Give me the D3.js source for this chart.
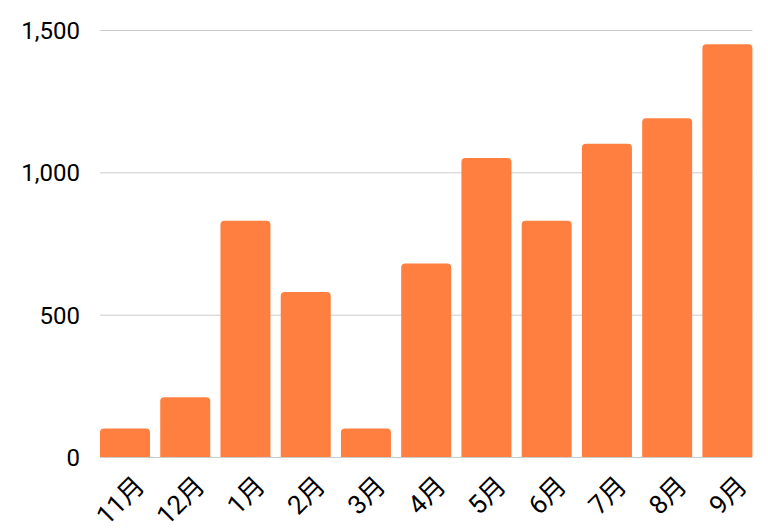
<!DOCTYPE html>
<html><head><meta charset="utf-8">
<script src="https://cdn.jsdelivr.net/npm/d3@7/dist/d3.min.js"></script>
<style>body{margin:0;background:#fff}text{font-family:Roboto,"Noto Sans CJK JP",sans-serif;fill:#000}</style>
</head><body><svg id="c" width="768" height="531"></svg>
<script>
const categories = ["11月","12月","1月","2月","3月","4月","5月","6月","7月","8月","9月"];
const values = [100,210,830,580,100,680,1050,830,1100,1190,1450];
const yTicks = [0,500,1000,1500];

const svg = d3.select("#c");
const x = d3.scaleBand().domain(categories).range([100,752.4]).paddingInner(0.17).paddingOuter(0);
const y = d3.scaleLinear().domain([0,1500]).range([457,30]);
const fmt = d3.format(",");

svg.append("g").selectAll("line").data(yTicks).join("line")
  .attr("x1",100).attr("x2",752.4).attr("y1",d=>y(d)+0.5).attr("y2",d=>y(d)+0.5)
  .attr("stroke","#cccccc").attr("stroke-width",1);

svg.append("g").selectAll("text").data(yTicks).join("text")
  .attr("x",80).attr("y",d=>y(d)).attr("dy","0.38em").attr("text-anchor","end")
  .attr("font-size",24).text(d=>fmt(d));

const r = 4;
svg.append("g").selectAll("path").data(values).join("path")
  .attr("fill","#fe7f3f")
  .attr("d",(d,i)=>{
    const x0 = x(categories[i]), w = x.bandwidth(), y0 = y(d), yb = y(0);
    return `M${x0},${yb}V${y0+r}Q${x0},${y0} ${x0+r},${y0}H${x0+w-r}Q${x0+w},${y0} ${x0+w},${y0+r}V${yb}Z`;
  });

svg.append("g").selectAll("text").data(categories).join("text")
  .attr("transform",d=>`translate(${x(d)+x.bandwidth()/2+8},${474}) rotate(-45)`)
  .attr("text-anchor","end").attr("dy","0.72em").attr("font-size",26).text(d=>d);
</script></body></html>
